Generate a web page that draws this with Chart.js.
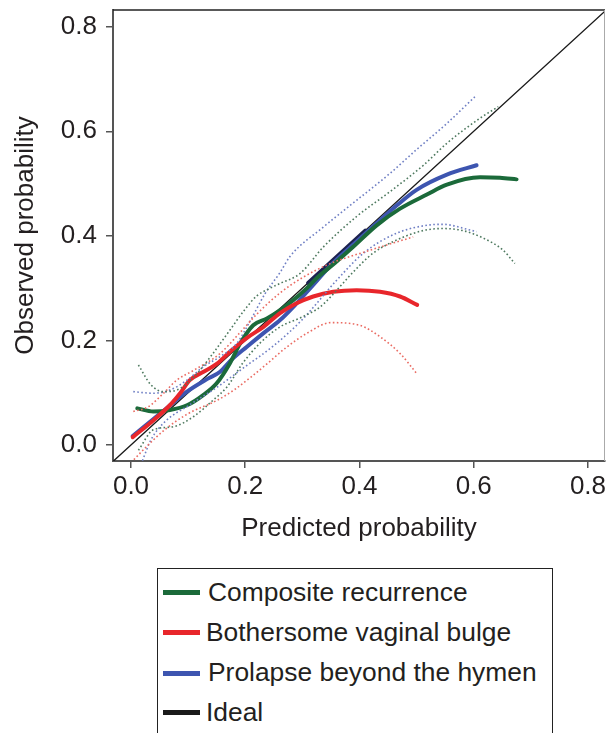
<!DOCTYPE html>
<html>
<head>
<meta charset="utf-8">
<script src="https://cdn.jsdelivr.net/npm/chart.js"></script>
<style>
  body { margin: 0; background: #fff; width: 606px; height: 733px; overflow: hidden; position: relative; }
  #grafico { position: absolute; left: 0; top: 0; }
  #leyenda {
    position: absolute; left: 157px; top: 568px; width: 396px; height: 220px;
    border: 1.5px solid #222; box-sizing: border-box;
    font-family: "Liberation Sans", Arial, sans-serif; font-size: 26.4px; color: #231f20;
  }
  .item { position: absolute; left: 0; height: 30px; line-height: 30px; white-space: nowrap; }
  .muestra { position: absolute; left: 5px; width: 37px; height: 5px; }
  .texto { position: absolute; left: 50px; top: 0; }
</style>
</head>
<body>
<canvas id="grafico" width="606" height="560"></canvas>
<div id="leyenda"></div>
<script>
// --- Datos ---
const xTicks = [0, 0.2, 0.4, 0.6, 0.8];
const yTicks = [0, 0.2, 0.4, 0.6, 0.8];
const seriesNames = ["Composite recurrence", "Bothersome vaginal bulge", "Prolapse beyond the hymen", "Ideal"];

// Composite recurrence (curva y bandas)
const compositeX = [0.011, 0.039, 0.068, 0.098, 0.127, 0.150, 0.173, 0.191, 0.214, 0.238, 0.261, 0.284, 0.308, 0.325, 0.357, 0.389, 0.430, 0.471, 0.518, 0.553, 0.611, 0.646, 0.675];
const compositeY = [0.070, 0.064, 0.067, 0.076, 0.096, 0.118, 0.156, 0.194, 0.229, 0.242, 0.258, 0.277, 0.300, 0.319, 0.348, 0.379, 0.420, 0.452, 0.479, 0.498, 0.512, 0.511, 0.508];
const compositeLoX = [0.013, 0.039, 0.074, 0.109, 0.144, 0.168, 0.196, 0.226, 0.261, 0.296, 0.331, 0.366, 0.384, 0.424, 0.465, 0.511, 0.546, 0.581, 0.616, 0.651, 0.672];
const compositeLoY = [-0.010, 0.029, 0.035, 0.054, 0.086, 0.111, 0.157, 0.195, 0.226, 0.243, 0.264, 0.303, 0.325, 0.367, 0.392, 0.410, 0.414, 0.410, 0.396, 0.373, 0.347];
const compositeHiX = [0.013, 0.035, 0.057, 0.080, 0.110, 0.140, 0.170, 0.200, 0.220, 0.240, 0.261, 0.296, 0.337, 0.395, 0.454, 0.512, 0.553, 0.611, 0.643];
const compositeHiY = [0.153, 0.115, 0.102, 0.105, 0.130, 0.170, 0.215, 0.260, 0.285, 0.298, 0.309, 0.328, 0.379, 0.437, 0.485, 0.535, 0.577, 0.625, 0.647];

// Bothersome vaginal bulge
const bulgeX = [0.003, 0.040, 0.068, 0.086, 0.103, 0.127, 0.150, 0.175, 0.203, 0.232, 0.261, 0.290, 0.319, 0.354, 0.395, 0.436, 0.471, 0.501];
const bulgeY = [0.015, 0.048, 0.076, 0.099, 0.124, 0.140, 0.155, 0.180, 0.205, 0.226, 0.252, 0.271, 0.284, 0.293, 0.296, 0.293, 0.284, 0.268];
const bulgeLoX = [0.005, 0.030, 0.060, 0.100, 0.150, 0.180, 0.210, 0.240, 0.270, 0.310, 0.350, 0.400, 0.436, 0.471, 0.500];
const bulgeLoY = [-0.028, 0.000, 0.030, 0.060, 0.085, 0.105, 0.130, 0.157, 0.185, 0.215, 0.234, 0.229, 0.207, 0.175, 0.137];
const bulgeHiX = [0.004, 0.030, 0.057, 0.080, 0.110, 0.156, 0.190, 0.220, 0.260, 0.300, 0.349, 0.420, 0.494];
const bulgeHiY = [0.064, 0.073, 0.099, 0.124, 0.143, 0.175, 0.214, 0.250, 0.290, 0.320, 0.347, 0.373, 0.398];

// Prolapse beyond the hymen
const prolapseX = [0.003, 0.051, 0.098, 0.133, 0.156, 0.173, 0.203, 0.232, 0.261, 0.290, 0.319, 0.350, 0.395, 0.430, 0.465, 0.500, 0.553, 0.605];
const prolapseY = [0.017, 0.060, 0.102, 0.126, 0.140, 0.160, 0.188, 0.214, 0.239, 0.271, 0.306, 0.344, 0.389, 0.424, 0.458, 0.488, 0.517, 0.535];
const prolapseLoX = [0.020, 0.035, 0.060, 0.100, 0.150, 0.200, 0.250, 0.300, 0.360, 0.407, 0.465, 0.524, 0.546, 0.594, 0.605];
const prolapseLoY = [-0.030, 0.010, 0.045, 0.075, 0.110, 0.150, 0.190, 0.240, 0.315, 0.367, 0.405, 0.421, 0.422, 0.411, 0.408];
const prolapseHiX = [0.004, 0.039, 0.068, 0.098, 0.127, 0.156, 0.185, 0.210, 0.235, 0.261, 0.278, 0.337, 0.395, 0.454, 0.500, 0.553, 0.602];
const prolapseHiY = [0.102, 0.099, 0.105, 0.124, 0.150, 0.169, 0.194, 0.240, 0.290, 0.330, 0.360, 0.417, 0.468, 0.520, 0.565, 0.615, 0.666];

// Diagonal ideal y tramo grueso superpuesto
const idealX = [-0.04, 0.84];
const idealY = [-0.04, 0.84];
const overlapX = [0.31, 0.41];
const overlapY = [0.31, 0.41];

// --- Estilos ---
const colores = ["#1b6a3a", "#e8262b", "#3d55b0", "#1a1a1a"];
const coloresBanda = ["#4f7a60", "#ea6b62", "#6f7fc4"];
const fuente = '"Liberation Sans", Arial, sans-serif';

function puntos(xs, ys) {
    return xs.map((x, i) => ({ x: x, y: ys[i] }));
}

function banda(xs, ys, color) {
    return {
        data: puntos(xs, ys),
        borderColor: color,
        borderWidth: 1.6,
        borderDash: [1.6, 2.4],
        pointRadius: 0,
        showLine: true,
        cubicInterpolationMode: "monotone"
    };
}

function curva(xs, ys, color, ancho) {
    return {
        data: puntos(xs, ys),
        borderColor: color,
        borderWidth: ancho,
        borderCapStyle: "round",
        pointRadius: 0,
        showLine: true,
        cubicInterpolationMode: "monotone"
    };
}

const datasets = [
    banda(compositeLoX, compositeLoY, coloresBanda[0]),
    banda(compositeHiX, compositeHiY, coloresBanda[0]),
    banda(bulgeLoX, bulgeLoY, coloresBanda[1]),
    banda(bulgeHiX, bulgeHiY, coloresBanda[1]),
    banda(prolapseLoX, prolapseLoY, coloresBanda[2]),
    banda(prolapseHiX, prolapseHiY, coloresBanda[2]),
    curva(bulgeX, bulgeY, colores[1], 4),
    curva(compositeX, compositeY, colores[0], 4),
    curva(prolapseX, prolapseY, colores[2], 4),
    curva(overlapX, overlapY, "#1c2250", 4),
    curva(idealX, idealY, colores[3], 1.3)
];

// Marco superior y derecho del área de trazado
const marco = {
    id: "marco",
    afterDraw(chart) {
        const { ctx, chartArea: a } = chart;
        ctx.save();
        ctx.strokeStyle = "#222";
        ctx.lineWidth = 1.5;
        ctx.beginPath();
        ctx.moveTo(a.left, a.top);
        ctx.lineTo(a.right, a.top);
        ctx.stroke();
        ctx.strokeStyle = "#aaa";
        ctx.lineWidth = 1;
        ctx.beginPath();
        ctx.moveTo(a.right - 0.5, a.top);
        ctx.lineTo(a.right - 0.5, a.bottom);
        ctx.stroke();
        ctx.restore();
    }
};

const ejeComun = {
    type: "linear",
    grid: { drawOnChartArea: false, drawTicks: true, tickLength: 7, color: "#555", lineWidth: 1.5 },
    border: { display: true, color: "#555", width: 2 },
    ticks: {
        font: { family: fuente, size: 26, lineHeight: 1.2 },
        color: "#231f20",
        callback: v => v.toFixed(1)
    }
};

new Chart(document.getElementById("grafico"), {
    type: "scatter",
    data: { datasets: datasets },
    options: {
        responsive: false,
        animation: false,
        events: [],
        layout: { padding: { left: 0, top: 10, right: 1, bottom: 0 } },
        plugins: { legend: { display: false }, tooltip: { enabled: false } },
        scales: {
            x: Object.assign({}, ejeComun, {
                min: -0.0315,
                max: 0.8298,
                ticks: Object.assign({}, ejeComun.ticks, { padding: 3 }),
                afterBuildTicks: s => { s.ticks = xTicks.map(v => ({ value: v })); },
                afterFit: s => { s.height = 99; s.paddingLeft = 0; s.paddingRight = 0; },
                title: {
                    display: true, text: "Predicted probability", color: "#231f20",
                    font: { family: fuente, size: 26, lineHeight: 1.2 },
                    padding: { top: 0, bottom: 16 }
                }
            }),
            y: Object.assign({}, ejeComun, {
                min: -0.0306,
                max: 0.8319,
                ticks: Object.assign({}, ejeComun.ticks, { padding: 9 }),
                afterBuildTicks: s => { s.ticks = yTicks.map(v => ({ value: v })); },
                afterFit: s => { s.width = 113; s.paddingTop = 0; s.paddingBottom = 0; },
                title: {
                    display: true, text: "Observed probability", color: "#231f20",
                    font: { family: fuente, size: 26, lineHeight: 1.2 },
                    padding: { top: 10, bottom: 0 }
                }
            })
        }
    },
    plugins: [marco]
});

// --- Leyenda ---
const leyenda = document.getElementById("leyenda");
const filas = [8, 48, 88, 128];
const desplazamientoTexto = [50, 48, 50, 48];
seriesNames.forEach((nombre, i) => {
    const item = document.createElement("div");
    item.className = "item";
    item.style.top = filas[i] + "px";
    const muestra = document.createElement("div");
    muestra.className = "muestra";
    muestra.style.background = colores[i];
    muestra.style.top = (i === 2 ? 14 : 13) + "px";
    const texto = document.createElement("span");
    texto.className = "texto";
    texto.style.left = desplazamientoTexto[i] + "px";
    texto.textContent = nombre;
    item.appendChild(muestra);
    item.appendChild(texto);
    leyenda.appendChild(item);
});
</script>
</body>
</html>
